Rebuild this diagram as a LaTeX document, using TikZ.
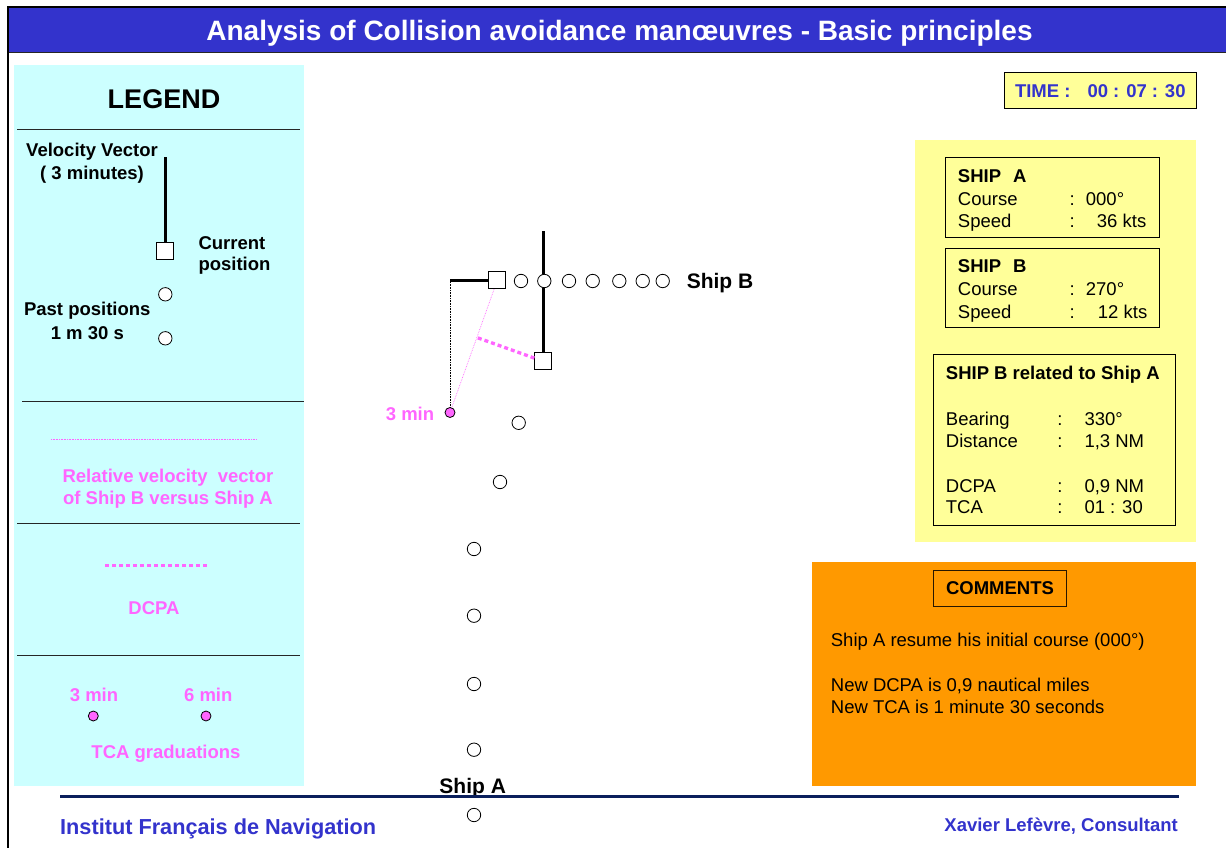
\documentclass[tikz,border=0pt]{standalone}
\usepackage{fontspec}
\setmainfont{Liberation Sans}
\usetikzlibrary{calc}

\definecolor{titleblue}{HTML}{3333CC}
\definecolor{legcyan}{HTML}{CCFFFF}
\definecolor{plotpink}{HTML}{FF66FF}
\definecolor{paleyellow}{HTML}{FFFF99}
\definecolor{commentorange}{HTML}{FF9900}
\definecolor{footnavy}{HTML}{0A1F5C}

\begin{document}
\begin{tikzpicture}[x=1pt,y=-1pt,
  tn/.style={inner sep=0pt, font=\fontsize{18.5}{22}\selectfont, text height=13.2pt, text depth=0pt},
  tb/.style={inner sep=0pt, font=\bfseries\fontsize{18.5}{22}\selectfont, text height=13.2pt, text depth=0pt},
  tbig/.style={inner sep=0pt, font=\bfseries\fontsize{21}{25}\selectfont, text height=15pt, text depth=0pt},
  pinktext/.style={tb, text=plotpink},
  pastpos/.style={circle, draw, fill=white, minimum size=13.4pt, inner sep=0pt, line width=0.8pt},
  curpos/.style={rectangle, draw, fill=white, minimum size=17pt, inner sep=0pt, line width=0.9pt},
  velvec/.style={line width=3.2pt},
  tcadot/.style={circle, draw, fill=plotpink, minimum size=10pt, inner sep=0pt, line width=0.8pt},
  divider/.style={line width=1pt, draw=black!85},
  relvec/.style={plotpink, densely dotted, line width=0.7pt},
  dcpaline/.style={plotpink, line width=3.3pt, dash pattern=on 4pt off 3pt},
  infobox/.style={draw, line width=0.9pt, inner sep=0pt}
]
\useasboundingbox (0,0) rectangle (1226,848);

% ---------- frame and title bar ----------
\fill[titleblue] (9,8) rectangle (1226,52);
\draw[line width=1.6pt, black!85] (9,52.5) -- (1226,52.5);
\draw[line width=2.4pt] (8.2,848) -- (8.2,7) -- (1226,7);
\node[inner sep=0pt, font=\bfseries\fontsize{28}{32}\selectfont, text height=20pt, text depth=0pt, text=white]
  (title) at (619.5,31) {Analysis of Collision avoidance manœuvres - Basic principles};

% ---------- legend panel ----------
\fill[legcyan] (14,65) rectangle (304,785.5);
\node[inner sep=0pt, font=\bfseries\fontsize{27}{31}\selectfont, text height=19.3pt, text depth=0pt]
  (legend) at (164,98.5) {LEGEND};
\draw[divider] (17,129.3) -- (300,129.3);

\node[tb] (vvec1) at (92,150) {Velocity Vector};
\node[tb] (vvec2) at (92,172.5) {( 3 minutes)};
\node[curpos] (lsq) at (165.3,250.8) {};
\coordinate (ltip) at (165.3,157.3);
\draw[velvec] (ltip) -- (lsq.north);
\node[tb, anchor=west] (cur1) at (198.3,242.5) {Current};
\node[tb, anchor=west] (cur2) at (198.3,264.3) {position};
\node[pastpos] (lp1) at (165.3,294.3) {};
\node[pastpos] (lp2) at (165.3,338.3) {};
\node[tb] (past1) at (87.3,309.3) {Past positions};
\node[tb] (past2) at (87.3,332.7) {1 m 30 s};

\draw[divider] (22,401.7) -- (304,401.7);
\coordinate (rv1) at (51,439.3);
\coordinate (rv2) at (256,439.3);
\draw[plotpink, densely dotted, line width=0.6pt] (rv1) -- (rv2);
\node[pinktext] (rel1) at (168,476) {Relative velocity\ \ vector};
\node[pinktext] (rel2) at (168,497.7) {of Ship B versus Ship A};

\draw[divider] (17,523.3) -- (300,523.3);
\coordinate (dc1) at (105,565.7);
\coordinate (dc2) at (208,565.7);
\draw[dcpaline] (dc1) -- (dc2);
\node[pinktext] (dcpa) at (154,607.7) {DCPA};

\draw[divider] (17,655) -- (300,655);
\node[pinktext] (m3) at (94,695) {3 min};
\node[pinktext] (m6) at (208.3,695) {6 min};
\node[tcadot] (d3) at (93.3,716) {};
\node[tcadot] (d6) at (206,716) {};
\node[pinktext] (tcag) at (166,751.7) {TCA graduations};

% ---------- plot: ship B ----------
\node[tcadot] (tca3) at (450,412.5) {};
\node[pinktext] (tca3lbl) at (410,414) {3 min};
\coordinate (vB) at (450,280.3);
\draw[densely dotted, line width=0.6pt] (vB) -- (tca3);
\node[curpos] (sqB) at (497.3,280.3) {};
\draw[velvec] (vB) -- (sqB.west);
\draw[relvec] (sqB) -- (tca3);

% ---------- plot: ship A ----------
\node[curpos] (sqA) at (543.3,361.3) {};
\coordinate (vA) at (543.3,231);
\draw[velvec] (vA) -- (sqA.north);
\coordinate (foot) at ($(sqB)!(sqA)!(tca3)$);
\draw[dcpaline] (sqA) -- (foot);

% past positions of ship B
\foreach \px [count=\i] in {521,544.3,569,592.7,619.3,642.7,662.7}
  \node[pastpos] (pB\i) at (\px,281) {};
\node[tbig] (shipB) at (720,281) {Ship B};

% past positions of ship A
\node[pastpos] (pA1) at (518.7,422.8) {};
\node[pastpos] (pA2) at (500,482) {};
\node[pastpos] (pA3) at (474,549) {};
\node[pastpos] (pA4) at (474,615.7) {};
\node[pastpos] (pA5) at (474,684) {};
\node[pastpos] (pA6) at (474,749.7) {};
\node[pastpos] (pA7) at (474,815) {};
\node[tbig] (shipA) at (472.7,786) {Ship A};

% ---------- right side: time and ship data ----------
\node[infobox, fill=paleyellow, minimum width=192pt, minimum height=36pt] (timebox) at (1100.3,90.7) {};
\node[tb, text=titleblue] (time) at (1100.3,91.2) {TIME :\hspace{17pt}00 : 07 : 30};

\fill[paleyellow] (915.3,140) rectangle (1195.7,541.7);

\node[infobox, minimum width=213.3pt, minimum height=80.4pt] (boxA) at (1052.35,197.5) {};
\node[tb, anchor=west] (aT) at (957.7,175.7) {SHIP\hspace{12pt}A};
\node[tn, anchor=west] (aC) at (957.7,198.7) {Course};
\node[tn] (aCc) at (1072.3,198.7) {:};
\node[tn, anchor=west] (aCv) at (1085.7,198.7) {000°};
\node[tn, anchor=west] (aS) at (957.7,221) {Speed};
\node[tn] (aSc) at (1072.3,221) {:};
\node[tn, anchor=west] (aSv) at (1096.7,221) {36 kts};

\node[infobox, minimum width=213.3pt, minimum height=79.4pt] (boxB) at (1052.35,288) {};
\node[tb, anchor=west] (bT) at (957.7,265.7) {SHIP\hspace{12pt}B};
\node[tn, anchor=west] (bC) at (957.7,289) {Course};
\node[tn] (bCc) at (1072.3,289) {:};
\node[tn, anchor=west] (bCv) at (1085.7,289) {270°};
\node[tn, anchor=west] (bS) at (957.7,311.7) {Speed};
\node[tn] (bSc) at (1072.3,311.7) {:};
\node[tn, anchor=west] (bSv) at (1097.7,311.7) {12 kts};

\node[infobox, minimum width=241.7pt, minimum height=170.3pt] (boxR) at (1054.15,439.85) {};
\node[tb, anchor=west] (rT) at (945.7,373.3) {SHIP B related to Ship A};
\node[tn, anchor=west] (rB) at (945.7,419) {Bearing};
\node[tn] (rBc) at (1060,419) {:};
\node[tn, anchor=west] (rBv) at (1084.3,419) {330°};
\node[tn, anchor=west] (rD) at (945.7,440.7) {Distance};
\node[tn] (rDc) at (1060,440.7) {:};
\node[tn, anchor=west] (rDv) at (1084.3,440.7) {1,3 NM};
\node[tn, anchor=west] (rP) at (945.7,485.7) {DCPA};
\node[tn] (rPc) at (1060,485.7) {:};
\node[tn, anchor=west] (rPv) at (1084.3,485.7) {0,9 NM};
\node[tn, anchor=west] (rC) at (945.7,507.3) {TCA};
\node[tn] (rCc) at (1060,507.3) {:};
\node[tn, anchor=west] (rCv) at (1084.3,507.3) {01 : 30};

% ---------- comments ----------
\fill[commentorange] (812,562) rectangle (1196,786);
\node[infobox, draw=black!85!commentorange, minimum width=133.4pt, minimum height=35.3pt] (combox) at (1000,588.3) {};
\node[tb] (comtitle) at (1000,588.3) {COMMENTS};
\node[tn, anchor=west] (c1) at (830.7,640) {Ship A resume his initial course (000°)};
\node[tn, anchor=west] (c2) at (830.7,685) {New DCPA is 0,9 nautical miles};
\node[tn, anchor=west] (c3) at (830.7,707.3) {New TCA is 1 minute 30 seconds};

% ---------- footer ----------
\coordinate (fl1) at (60,796.5);
\coordinate (fl2) at (1179,796.5);
\draw[footnavy, line width=3.7pt] (fl1) -- (fl2);
\node[inner sep=0pt, font=\bfseries\fontsize{21.7}{26}\selectfont, text height=15.5pt, text depth=0pt, text=titleblue, anchor=west]
  (ifn) at (60,827) {Institut Français de Navigation};
\node[tb, text=titleblue, anchor=east] (author) at (1178,825) {Xavier Lefèvre, Consultant};
\end{tikzpicture}
\end{document}
